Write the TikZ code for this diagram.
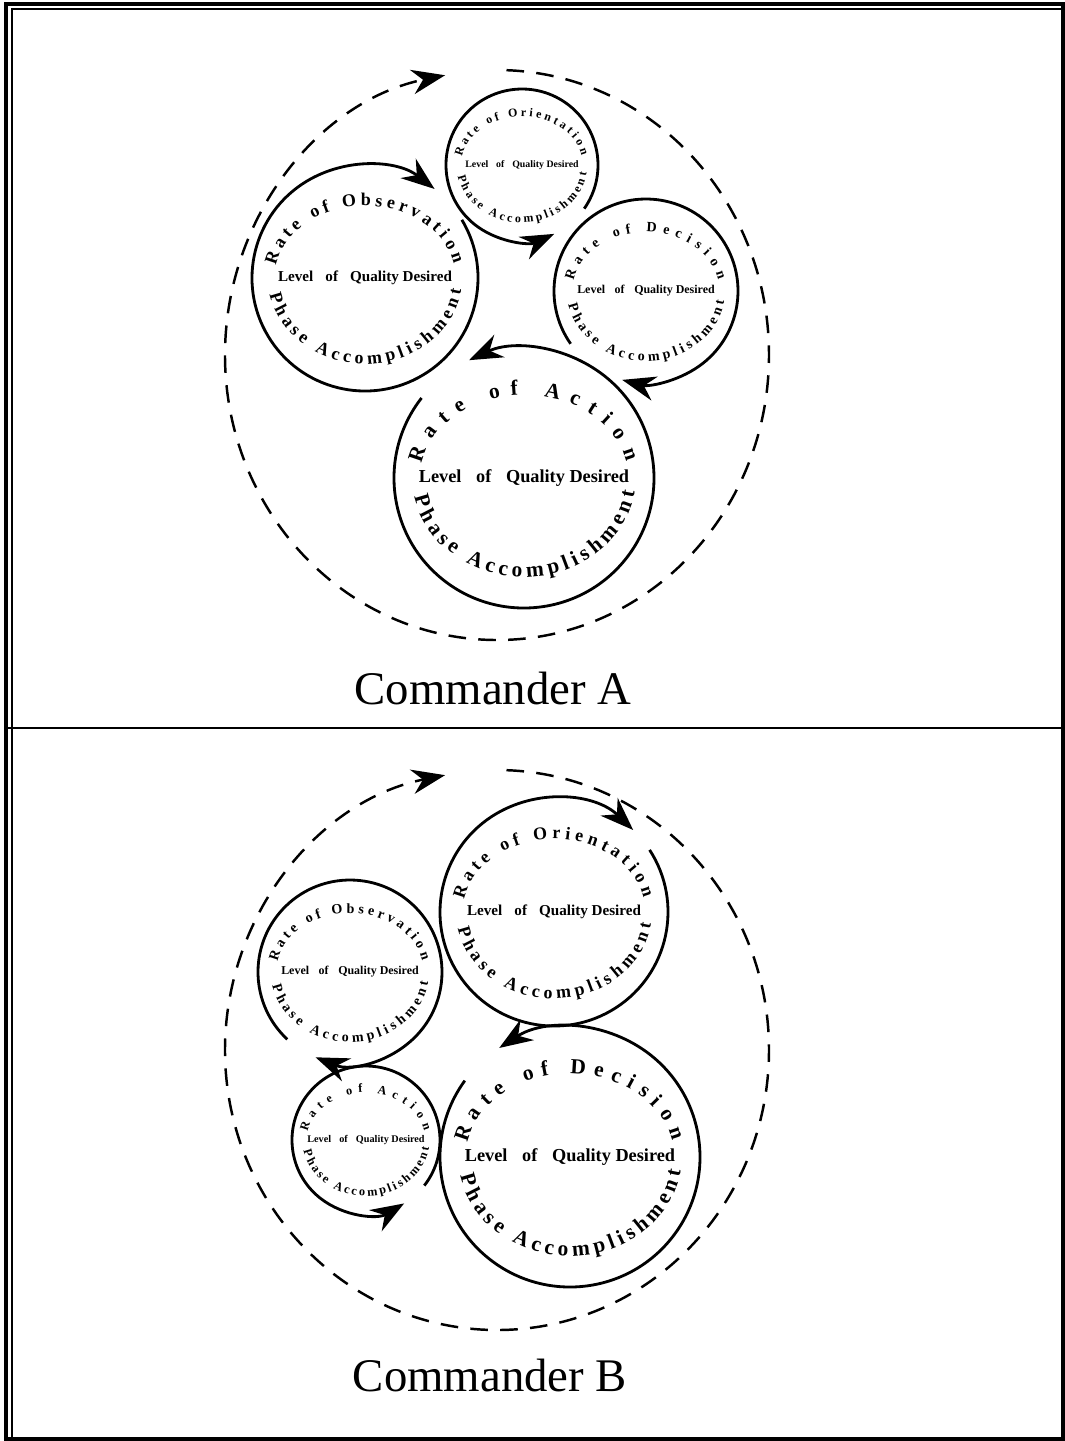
\documentclass[tikz,border=0pt]{standalone}
\usepackage{fontspec}
\setmainfont{Liberation Serif}
\usetikzlibrary{arrows.meta,calc,decorations.text}

% centre text and the two curved lines of one phase circle
\newcommand{\phasering}[5]{%
  \node[level, font=\bfseries\fontsize{#4}{#4}\selectfont] (#1-lvl) at (#1) {Level\hspace{.8em}of\hspace{.8em}Quality Desired};
  \path[decorate, decoration={text along path, text align=fit to path,
      text={|\bfseries\fontsize{#5}{#5}\selectfont|Rate of #3}}]
    ($(#1)+(170:{.80*#2} and {.64*#2})$) arc[start angle=170, end angle=11, x radius=.80*#2, y radius=.64*#2];
  \path[decorate, decoration={text along path, text align=fit to path,
      text={|\bfseries\fontsize{#5}{#5}\selectfont|Phase Accomplishment}}]
    ($(#1)+(191:{.86*#2} and {.76*#2})$) arc[start angle=191, end angle=352, x radius=.86*#2, y radius=.76*#2];
}

\begin{document}
\begin{tikzpicture}[x=.01cm, y=.01cm, >={Stealth[length=9.5pt,width=7pt]},
    ring/.style={line width=.8pt, ->},
    loop/.style={line width=.7pt, dash pattern=on 5pt off 3.5pt, ->},
    level/.style={inner sep=0pt}]
    \useasboundingbox (0,0) rectangle (1065,-1441);
    % frame
    \draw[line width=.9pt] (6,-4) rectangle (1063,-1439);
    \draw[line width=.5pt] (12,-1439) -- (12,-9) -- (1063,-9);
    \draw[line width=.8pt] (6,-728) -- (1063,-728);

    % Commander A
    \coordinate (loopA) at (497,-355);
    \coordinate (obsA) at (365,-278);
    \coordinate (oriA) at (522,-165);
    \coordinate (decA) at (646,-291);
    \coordinate (actA) at (524,-478);
    \draw[loop] ($(loopA)+(88:272 and 285)$) arc[start angle=88, end angle=-259, x radius=272, y radius=285];
    \draw[ring] ([shift={(31:113)}]obsA) arc[start angle=31, end angle=-308, radius=113];
    \draw[ring] ([shift={(-35:76)}]oriA) arc[start angle=-35, end angle=295, radius=76];
    \draw[ring] ([shift={(215:92)}]decA) arc[start angle=215, end angle=-105, radius=92];
    \draw[ring] ([shift={(142:130)}]actA) arc[start angle=142, end angle=475, radius=130];
    \phasering{obsA}{113}{Observation}{4.3}{5.1}
    \phasering{oriA}{76}{Orientation}{2.8}{3.4}
    \phasering{decA}{92}{Decision}{3.4}{4.0}
    \phasering{actA}{130}{Action}{5.2}{6.1}
    \node[font=\fontsize{13.3}{16}\selectfont] (capA) at (493,-688) {Commander A};

    % Commander B
    \coordinate (loopB) at (497,-1050);
    \coordinate (oriB) at (554,-912);
    \coordinate (obsB) at (350,-972);
    \coordinate (actB) at (366,-1140);
    \coordinate (decB) at (570,-1157);
    \draw[loop] ($(loopB)+(88:272 and 280)$) arc[start angle=88, end angle=-259, x radius=272, y radius=280];
    \draw[ring] ([shift={(33:114)}]oriB) arc[start angle=33, end angle=-314, radius=114];
    \draw[ring] ([shift={(227:92)}]obsB) arc[start angle=227, end angle=-112, radius=92];
    \draw[ring] ([shift={(-38:74)}]actB) arc[start angle=-38, end angle=301, radius=74];
    \draw[ring] ([shift={(144:130)}]decB) arc[start angle=144, end angle=483, radius=130];
    \phasering{oriB}{114}{Orientation}{4.3}{5.1}
    \phasering{obsB}{92}{Observation}{3.4}{4.0}
    \phasering{actB}{74}{Action}{2.9}{3.5}
    \phasering{decB}{130}{Decision}{5.2}{6.1}
    \node[font=\fontsize{13.3}{16}\selectfont] (capB) at (490,-1375) {Commander B};
\end{tikzpicture}
\end{document}
